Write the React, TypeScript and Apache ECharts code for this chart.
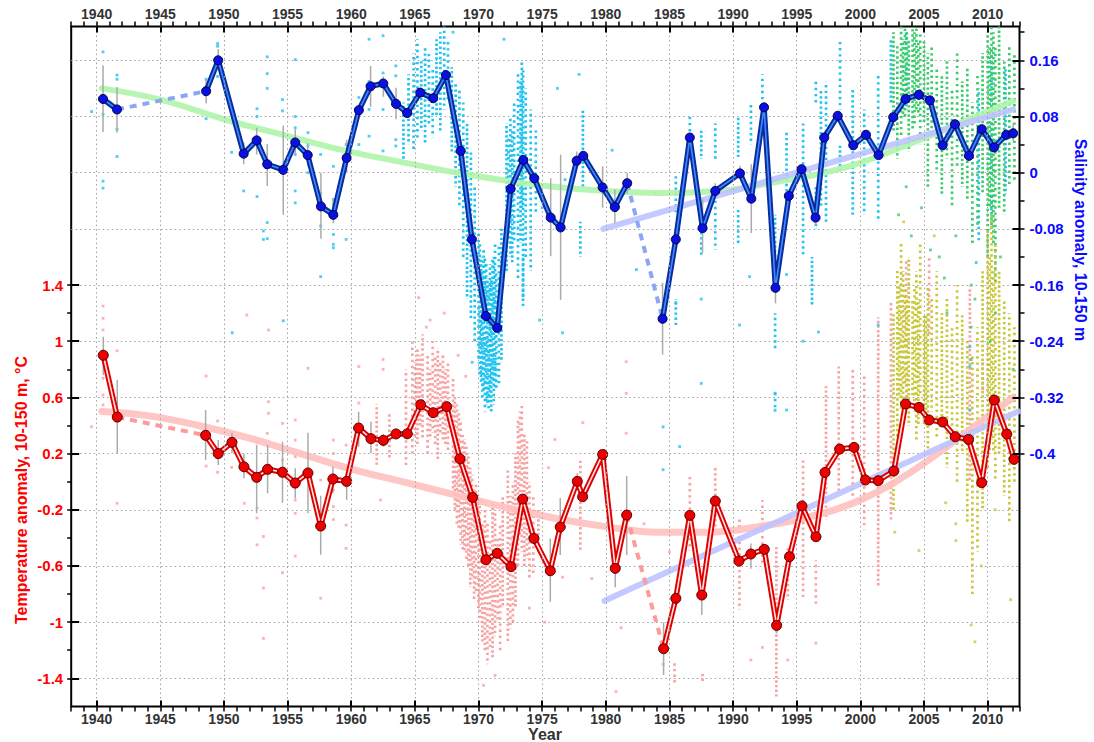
import React, { useEffect, useRef } from 'react';
import * as echarts from 'echarts';

// ---------------- DATA ----------------
const YEAR_RANGE = [1938, 2012.5];
const TEMP_RANGE = [-1.6, 3.24];
const SAL_RANGE = [-0.76, 0.208];

const SAL_YEARS = [1940.5, 1941.6, 1948.6, 1949.55, 1951.55, 1952.57, 1953.4, 1954.66, 1955.6, 1956.58, 1957.62, 1958.59, 1959.64, 1960.6, 1961.52, 1962.52, 1963.52, 1964.4, 1965.42, 1966.44, 1967.44, 1968.6, 1969.48, 1970.58, 1971.47, 1972.52, 1973.52, 1974.38, 1975.67, 1976.45, 1977.71, 1978.23, 1979.75, 1980.71, 1981.68, 1984.46, 1985.5, 1986.6, 1987.6, 1988.6, 1990.54, 1991.43, 1992.43, 1993.33, 1994.38, 1995.38, 1996.48, 1997.16, 1998.22, 1999.44, 2000.44, 2001.43, 2002.58, 2003.55, 2004.6, 2005.46, 2006.46, 2007.43, 2008.53, 2009.53, 2010.5, 2011.46, 2012.0];
const SAL_VALUES = [0.105, 0.090, 0.116, 0.160, 0.027, 0.046, 0.012, 0.004, 0.043, 0.025, -0.048, -0.060, 0.021, 0.089, 0.123, 0.127, 0.098, 0.085, 0.114, 0.106, 0.139, 0.031, -0.095, -0.204, -0.221, -0.023, 0.018, -0.008, -0.064, -0.078, 0.017, 0.024, -0.021, -0.049, -0.015, -0.208, -0.095, 0.050, -0.079, -0.026, -0.001, -0.037, 0.093, -0.164, -0.033, 0.005, -0.064, 0.050, 0.081, 0.039, 0.054, 0.025, 0.079, 0.105, 0.111, 0.103, 0.039, 0.069, 0.024, 0.062, 0.036, 0.054, 0.056];

const TEMP_YEARS = [1940.52, 1941.62, 1948.56, 1949.55, 1950.63, 1951.57, 1952.57, 1953.43, 1954.6, 1955.6, 1956.6, 1957.6, 1958.56, 1959.64, 1960.58, 1961.55, 1962.52, 1963.52, 1964.4, 1965.45, 1966.44, 1967.5, 1968.54, 1969.54, 1970.58, 1971.47, 1972.55, 1973.47, 1974.35, 1975.64, 1976.42, 1977.76, 1978.18, 1979.75, 1980.74, 1981.64, 1984.54, 1985.5, 1986.6, 1987.54, 1988.6, 1990.46, 1991.4, 1992.45, 1993.42, 1994.43, 1995.41, 1996.51, 1997.22, 1998.37, 1999.5, 2000.39, 2001.4, 2002.63, 2003.55, 2004.6, 2005.4, 2006.46, 2007.45, 2008.5, 2009.53, 2010.52, 2011.5, 2012.07];
const TEMP_VALUES = [0.90, 0.46, 0.33, 0.20, 0.28, 0.106, 0.031, 0.088, 0.067, -0.01, 0.062, -0.316, 0.019, 0.002, 0.382, 0.306, 0.294, 0.340, 0.341, 0.548, 0.491, 0.534, 0.163, -0.112, -0.556, -0.51, -0.605, -0.124, -0.404, -0.634, -0.323, 0.002, -0.107, 0.194, -0.617, -0.238, -1.189, -0.831, -0.24, -0.807, -0.138, -0.565, -0.515, -0.482, -1.023, -0.534, -0.173, -0.392, 0.066, 0.232, 0.244, 0.012, 0.007, 0.076, 0.553, 0.529, 0.439, 0.425, 0.32, 0.301, -0.007, 0.581, 0.339, 0.159];

// error bars: [year, low, high]
const SAL_ERR = [[1940.5, 0.058, 0.153], [1941.6, 0.057, 0.122], [1948.6, 0.099, 0.133], [1949.55, 0.154, 0.176], [1951.55, 0.012, 0.043], [1952.57, 0.026, 0.064], [1953.4, -0.019, 0.041], [1954.66, -0.060, 0.067], [1955.6, 0.024, 0.062], [1956.58, 0.009, 0.042], [1957.62, -0.094, 0.0], [1958.59, -0.072, -0.038], [1959.64, 0.0, 0.047], [1960.6, 0.080, 0.095], [1961.52, 0.094, 0.152], [1962.52, 0.108, 0.137], [1963.52, 0.076, 0.121], [1975.67, -0.119, -0.008], [1976.45, -0.181, 0.026], [1977.71, 0.005, 0.030], [1979.75, -0.050, 0.009], [1980.71, -0.072, -0.024], [1981.68, -0.030, 0.0], [1984.46, -0.259, -0.157], [1987.6, -0.114, -0.038], [1988.6, -0.035, -0.015], [1990.54, -0.008, 0.010], [1991.43, -0.086, 0.012], [1993.33, -0.186, -0.150], [1996.48, -0.075, -0.050], [2012.0, 0.045, 0.070]];
const TEMP_ERR = [[1940.52, 0.759, 1.032], [1941.62, 0.202, 0.724], [1948.56, 0.154, 0.51], [1949.55, 0.119, 0.296], [1950.63, 0.202, 0.348], [1951.57, 0.024, 0.197], [1952.57, -0.225, 0.261], [1953.43, -0.083, 0.261], [1954.6, -0.15, 0.284], [1955.6, -0.119, 0.095], [1956.6, -0.225, 0.348], [1957.6, -0.52, -0.10], [1958.56, -0.083, 0.107], [1959.64, -0.13, 0.06], [1960.58, 0.249, 0.498], [1961.55, 0.202, 0.427], [1962.52, 0.25, 0.34], [1975.64, -0.855, -0.404], [1976.42, -0.522, -0.117], [1977.76, -0.05, 0.06], [1980.74, -0.752, -0.487], [1981.64, -0.522, 0.04], [1984.54, -1.377, -1.0], [1987.54, -0.95, -0.70], [1991.4, -0.62, -0.44], [1993.42, -1.08, -0.97]];

// long-term trend curves: [year, value]
const SAL_TREND = [[1940.4, 0.120], [1945, 0.104], [1950.2, 0.075], [1955.5, 0.050], [1959.6, 0.031], [1964, 0.015], [1968.3, 0.0], [1974.8, -0.018], [1980, -0.026], [1985, -0.029], [1990, -0.024], [1993.1, -0.014], [1996.7, -0.002], [2000, 0.014], [2004.7, 0.047], [2008, 0.072], [2012, 0.102]];
const TEMP_TREND = [[1940.4, 0.50], [1944, 0.47], [1948, 0.40], [1952, 0.31], [1956, 0.20], [1960, 0.09], [1964, 0.0], [1968, -0.09], [1972, -0.18], [1976, -0.26], [1980, -0.32], [1984, -0.36], [1988, -0.36], [1992, -0.32], [1996, -0.25], [2000, -0.13], [2004, 0.07], [2008, 0.33], [2012, 0.60]];
// linear trends since 1980
const SAL_LINEAR = [[1979.8, -0.080], [2012, 0.090]];
const TEMP_LINEAR = [[1979.9, -0.848], [2012.4, 0.50]];

// individual observations, drawn as columns of dots [year, low, high] plus single dots [year, value]
const CYAN_STRIPS = [[1964.1, 0.02, 0.10], [1964.5, 0.04, 0.14], [1964.9, 0.03, 0.17], [1965.2, 0.05, 0.19], [1965.5, 0.06, 0.16], [1965.8, 0.04, 0.18], [1966.1, 0.07, 0.17], [1966.4, 0.05, 0.15], [1966.7, 0.08, 0.19], [1967.0, 0.06, 0.20], [1967.3, 0.09, 0.21], [1967.6, 0.10, 0.19], [1967.9, 0.03, 0.15], [1968.2, -0.02, 0.13], [1968.5, -0.05, 0.12], [1968.8, -0.12, 0.10], [1969.1, -0.18, 0.07], [1969.4, -0.21, 0.03], [1969.7, -0.24, -0.02], [1970.0, -0.27, -0.08], [1970.2, -0.30, -0.12], [1970.4, -0.31, -0.11], [1970.6, -0.33, -0.13], [1970.8, -0.34, -0.16], [1971.0, -0.34, -0.15], [1971.2, -0.33, -0.12], [1971.4, -0.31, -0.14], [1971.6, -0.30, -0.10], [1971.8, -0.27, -0.08], [1970.1, -0.29, -0.10], [1970.3, -0.32, -0.14], [1970.5, -0.34, -0.12], [1970.7, -0.33, -0.15], [1970.9, -0.32, -0.13], [1971.1, -0.30, -0.12], [1971.3, -0.31, -0.10], [1972.2, -0.14, 0.07], [1972.5, -0.12, 0.08], [1972.8, -0.10, 0.10], [1973.1, -0.15, 0.14], [1973.3, -0.10, 0.13], [1973.5, -0.18, 0.15], [1973.7, -0.12, 0.12], [1972.35, -0.10, 0.05], [1972.65, -0.13, 0.06], [1973.4, -0.05, 0.16], [1974.1, -0.14, 0.09], [1974.5, -0.06, 0.06], [1978.2, -0.02, 0.09], [1978.0, -0.12, -0.07], [1985.5, -0.06, 0.0], [1986.6, 0.05, 0.08], [1987.5, 0.02, 0.06], [1987.5, -0.12, -0.08], [1988.6, 0.02, 0.07], [1988.6, -0.11, -0.04], [1990.4, 0.02, 0.08], [1990.4, -0.10, -0.05], [1991.4, 0.04, 0.10], [1992.3, 0.10, 0.14], [1993.3, -0.12, -0.06], [1994.2, -0.06, 0.06], [1995.5, -0.12, 0.07], [1996.5, 0.10, 0.13], [1996.5, -0.08, -0.02], [1996.9, -0.05, 0.12], [1997.3, -0.07, 0.13], [1998.4, 0.09, 0.19], [1998.4, 0.0, 0.04], [1999.4, -0.06, 0.12], [2000.3, -0.06, 0.09], [2001.4, -0.07, 0.14], [2002.4, 0.10, 0.19], [2003.6, 0.09, 0.20], [2009.3, -0.10, 0.12], [2010.3, -0.08, 0.18], [2011.4, -0.03, 0.15], [1985.5, -0.22, -0.18], [1993.3, -0.25, -0.20], [1993.3, -0.34, -0.31], [1996.2, -0.19, -0.12], [1973.5, -0.19, -0.12]];
const CYAN_DOTS = [[1939.6, 0.087], [1940.5, 0.172], [1940.5, 0.083], [1940.5, -0.012], [1940.5, -0.022], [1941.6, 0.139], [1941.6, 0.133], [1941.6, 0.062], [1941.6, 0.023], [1948.6, 0.133], [1948.6, 0.077], [1949.5, 0.184], [1949.5, 0.18], [1949.5, 0.137], [1950.6, 0.029], [1951.55, -0.026], [1952.6, 0.091], [1952.6, 0.08], [1952.6, -0.034], [1953.1, -0.083], [1953.1, -0.095], [1953.4, 0.165], [1953.4, 0.141], [1953.4, 0.12], [1953.4, -0.071], [1953.4, -0.094], [1954.6, 0.104], [1954.6, 0.088], [1955.6, 0.161], [1955.6, 0.08], [1955.6, 0.064], [1955.6, 0.043], [1955.6, 0.026], [1955.6, -0.026], [1955.6, -0.043], [1956.6, 0.057], [1956.6, 0.038], [1956.6, 0.0], [1957.6, 0.026], [1957.6, -0.029], [1957.6, -0.043], [1957.6, -0.076], [1958.6, 0.009], [1958.6, -0.038], [1958.6, -0.045], [1958.6, -0.088], [1958.6, -0.102], [1958.6, -0.107], [1959.6, 0.04], [1959.6, -0.095], [1960.6, 0.107], [1960.6, 0.04], [1961.4, 0.19], [1961.4, 0.13], [1961.4, 0.09], [1961.4, 0.052], [1962.5, 0.195], [1962.5, 0.142], [1962.5, 0.09], [1962.5, 0.031], [1963.5, 0.152], [1963.5, 0.138], [1963.5, 0.104], [1963.5, 0.047], [1963.5, 0.038], [1950.65, -0.228], [1954.66, -0.211], [1957.6, -0.148], [1976.6, -0.228], [1982.4, -0.138], [1984.5, -0.362], [1984.5, -0.423], [1985.5, -0.185], [1987.5, -0.18], [1987.5, -0.3], [1985.8, -0.39], [1990.5, -0.217], [1991.3, -0.148], [1993.3, -0.314], [1993.3, -0.338], [1994.2, -0.145], [1994.2, -0.338], [1996.7, -0.227], [1995.5, -0.24], [2001.4, -0.217], [2008.6, -0.248], [2008.6, -0.276], [2008.6, -0.338], [2009.1, -0.128], [1980.5, 0.032], [1976.2, 0.12], [1977.9, 0.14], [1975.0, -0.05], [1976.8, -0.01], [1983.9, -0.03], [1972.0, 0.19], [1968.0, 0.20], [1974.8, -0.21], [1969.5, -0.27]];
const GREEN_STRIPS = [[2002.6, 0.06, 0.20], [2002.9, 0.02, 0.18], [2003.2, 0.05, 0.21], [2003.5, 0.08, 0.21], [2003.8, 0.03, 0.19], [2004.1, 0.06, 0.21], [2004.4, 0.09, 0.21], [2004.7, 0.04, 0.20], [2005.0, 0.07, 0.19], [2005.3, -0.02, 0.17], [2005.6, 0.05, 0.18], [2006.0, 0.00, 0.15], [2006.4, -0.03, 0.14], [2006.8, 0.02, 0.16], [2007.2, -0.05, 0.12], [2007.6, 0.01, 0.17], [2008.0, -0.02, 0.13], [2008.4, -0.04, 0.15], [2008.8, -0.10, 0.10], [2009.2, -0.08, 0.14], [2009.6, -0.03, 0.17], [2010.0, -0.12, 0.20], [2010.3, -0.08, 0.21], [2010.6, -0.16, 0.18], [2010.9, -0.05, 0.21], [2011.3, -0.06, 0.16], [2011.7, -0.02, 0.18], [2012.1, -0.01, 0.17], [2003.35, 0.08, 0.19], [2003.65, 0.10, 0.20], [2004.25, 0.07, 0.20], [2004.55, 0.08, 0.19], [2010.15, -0.05, 0.18], [2010.45, -0.10, 0.20]];
const GREEN_DOTS = [[2003.0, -0.06], [2004.0, -0.09], [2005.5, -0.11], [2006.6, -0.15], [2006.8, -0.2], [2007.5, -0.09], [2008.7, -0.16], [2008.7, -0.22], [2008.7, -0.266], [2009.0, -0.18], [2010.2, -0.24], [2011.0, -0.12], [2012.0, -0.28], [2006.2, -0.12], [2004.8, -0.05], [2003.6, -0.02], [2010.6, -0.20]];
const PINK_STRIPS = [[1962.0, 0.12, 0.55], [1963.0, 0.15, 0.5], [1964.3, 0.1, 0.8], [1964.8, 0.2, 1.0], [1965.2, 0.25, 0.95], [1965.6, 0.3, 1.05], [1966.0, 0.2, 0.9], [1966.4, 0.35, 1.0], [1966.8, 0.15, 0.95], [1967.2, 0.3, 0.9], [1967.6, 0.2, 0.85], [1965.0, 0.3, 0.85], [1965.4, 0.4, 0.9], [1966.2, 0.3, 0.8], [1966.6, 0.25, 0.9], [1967.0, 0.35, 0.85], [1967.4, 0.25, 0.8], [1968.0, -0.1, 0.75], [1968.3, -0.3, 0.55], [1968.6, -0.45, 0.45], [1968.9, -0.5, 0.3], [1969.2, -0.6, 0.2], [1969.5, -0.7, 0.05], [1969.8, -0.8, 0.0], [1968.15, -0.2, 0.6], [1968.45, -0.35, 0.5], [1968.75, -0.5, 0.35], [1969.05, -0.55, 0.25], [1969.35, -0.75, 0.1], [1969.65, -0.85, -0.05], [1970.0, -0.9, -0.2], [1970.1, -1.0, -0.1], [1970.3, -1.15, -0.3], [1970.5, -1.2, -0.2], [1970.7, -1.3, -0.3], [1970.9, -1.2, -0.4], [1971.1, -1.25, -0.15], [1971.3, -1.1, -0.2], [1971.5, -1.0, -0.4], [1971.7, -1.2, -0.3], [1971.9, -0.9, -0.1], [1972.3, -1.15, 0.1], [1972.7, -1.0, 0.0], [1972.5, -1.05, -0.1], [1972.9, -0.9, 0.2], [1973.1, -0.6, 0.45], [1973.4, -0.5, 0.55], [1973.25, -0.4, 0.5], [1973.6, -0.6, 0.35], [1973.8, -0.55, 0.3], [1974.0, -0.7, 0.0], [1974.3, -0.65, -0.1], [1974.7, -0.5, -0.2], [1978.0, -0.5, 0.15], [1985.4, -1.43, -1.27], [1986.6, -0.49, 0.06], [1987.6, -1.43, -1.36], [1988.6, -0.32, 0.1], [1990.5, -0.91, -0.27], [1992.3, -0.6, -0.13], [1993.4, -1.53, -0.46], [1994.3, -0.84, -0.46], [1995.5, -0.84, 0.15], [1996.5, -0.87, -0.56], [1997.3, -0.27, 0.68], [1998.3, -0.08, 0.82], [1999.4, -0.1, 0.8], [2000.3, -0.34, 0.75], [2001.4, -0.75, 1.17], [2002.4, -0.27, 1.29], [2003.6, 0.53, 1.57], [2005.4, 1.03, 1.6], [2008.6, 0.01, 1.39], [2009.6, 0.63, 0.87]];
const PINK_DOTS = [[1939.6, 0.391], [1940.5, 1.25], [1940.5, 1.163], [1940.5, 1.08], [1940.5, 0.736], [1940.5, 0.617], [1940.5, 0.546], [1941.6, 0.932], [1941.6, -0.154], [1948.6, 0.752], [1948.6, 0.111], [1949.5, 0.432], [1949.5, 0.067], [1950.6, 0.102], [1951.6, -0.154], [1951.8, 1.187], [1952.6, 0.277], [1952.6, -0.188], [1952.6, -0.259], [1952.6, -0.45], [1953.1, -0.39], [1953.1, -0.757], [1953.1, -1.116], [1953.4, 0.344], [1953.5, 1.08], [1953.5, 0.569], [1953.5, 0.487], [1954.6, 0.415], [1954.6, 0.154], [1954.6, -0.648], [1955.6, 0.439], [1955.6, 0.296], [1955.6, 0.178], [1955.6, -0.131], [1955.6, -0.225], [1955.6, -0.53], [1956.6, 0.807], [1957.6, -0.83], [1957.6, 0.012], [1958.6, 0.296], [1958.6, 0.2], [1958.6, -0.06], [1958.6, -0.178], [1958.6, -0.27], [1959.6, -0.309], [1959.6, -0.475], [1959.6, 0.26], [1960.6, 0.82], [1960.6, 0.56], [1962.5, 0.87], [1962.5, 0.8], [1962.3, -0.13], [1965.3, 1.31], [1966.2, 1.15], [1967.3, 1.2], [1965.9, 1.1], [1968.4, 0.9], [1969.0, 0.75], [1970.4, -1.45], [1971.3, -1.38], [1976.6, -0.68], [1978.9, -0.69], [1978.2, 0.42], [1980.8, -1.495], [1981.2, -1.04], [1981.6, 0.854], [1981.6, 0.629], [1981.6, 0.345], [1984.5, -1.3], [1991.4, -1.27], [1992.3, -1.18], [1994.3, -1.27], [1996.5, -1.15], [1975.2, -1.0], [1976.0, 0.3], [1983.0, -0.3], [1985.0, -0.5], [1974.0, -0.9], [1975.5, 0.1]];
const OLIVE_STRIPS = [[2002.6, -0.2, 1.2], [2002.9, 0.3, 1.5], [2003.2, 0.5, 1.7], [2003.5, 0.7, 1.4], [2003.8, 0.4, 1.6], [2004.1, 0.6, 1.3], [2004.4, 0.3, 1.5], [2004.7, 0.6, 1.7], [2005.0, 0.4, 1.2], [2005.3, 0.2, 1.4], [2005.6, 0.5, 1.3], [2006.0, 0.3, 1.5], [2006.4, 0.4, 1.2], [2006.8, 0.1, 1.3], [2007.2, 0.3, 1.1], [2007.6, 0.0, 1.4], [2008.0, 0.2, 1.2], [2008.4, -0.3, 1.0], [2008.8, -0.8, 0.9], [2009.2, -0.5, 1.1], [2009.6, -0.2, 1.5], [2010.0, 0.1, 1.8], [2010.3, 0.3, 1.9], [2010.6, 0.0, 1.7], [2010.9, 0.2, 1.5], [2011.3, -0.1, 1.3], [2011.7, -0.3, 1.2], [2012.1, 0.0, 1.1], [2003.05, 0.6, 1.4], [2003.35, 0.5, 1.5], [2003.65, 0.6, 1.3], [2004.25, 0.5, 1.4], [2004.55, 0.4, 1.3], [2005.15, 0.4, 1.2], [2010.15, 0.2, 1.6], [2010.45, 0.2, 1.5]];
const OLIVE_DOTS = [[2002.7, -0.36], [2004.6, -0.49], [2007.5, -0.3], [2007.5, -0.42], [2008.7, -1.02], [2009.0, -1.14], [2011.8, -0.84], [2010.6, -0.2], [2006.7, -0.15], [2009.5, -0.6], [2005.8, 1.75], [2003.4, 1.85]];

// ---------------- LAYOUT ----------------
const PLOT = { left: 71.2, top: 26.6, width: 948.3, height: 679.8 };
const xPix = (yr: number) => PLOT.left + ((yr - YEAR_RANGE[0]) / (YEAR_RANGE[1] - YEAR_RANGE[0])) * PLOT.width;
const tPix = (t: number) => PLOT.top + ((TEMP_RANGE[1] - t) / (TEMP_RANGE[1] - TEMP_RANGE[0])) * PLOT.height;
const sPix = (s: number) => PLOT.top + ((SAL_RANGE[1] - s) / (SAL_RANGE[1] - SAL_RANGE[0])) * PLOT.height;

const FONT = '"Liberation Sans", Arial, sans-serif';
const GRID_LINE = { color: '#a0a0a0', width: 1, type: [1.5, 3] as any };

function segments(xs: number[], ys: number[], maxGap: number) {
  const segs: number[][][] = [];
  let cur: number[][] = [];
  for (let i = 0; i < xs.length; i++) {
    if (i > 0 && xs[i] - xs[i - 1] > maxGap) { segs.push(cur); cur = []; }
    cur.push([xs[i], ys[i]]);
  }
  segs.push(cur);
  return segs;
}

function gapLinks(segs: number[][][]) {
  const links: number[][][] = [];
  for (let i = 1; i < segs.length; i++) {
    links.push([segs[i - 1][segs[i - 1].length - 1], segs[i][0]]);
  }
  return links;
}

function stripSeries(data: number[][], yIdx: number, color: string) {
  return {
    type: 'custom', xAxisIndex: 0, yAxisIndex: yIdx, clip: true, silent: true, z: 1,
    data, encode: { x: 0, y: [1, 2] },
    renderItem: (params: any, api: any) => {
      const p1 = api.coord([api.value(0), api.value(1)]);
      const p2 = api.coord([api.value(0), api.value(2)]);
      const i = params.dataIndex;
      return {
        type: 'line',
        shape: { x1: p1[0], y1: p1[1], x2: p2[0], y2: p2[1] },
        style: { stroke: color, lineWidth: 2.7, lineDash: [2.4, 2.2 + (i % 4) * 0.5], lineDashOffset: (i % 3) * 1.6 },
      };
    },
  };
}

function dotSeries(data: number[][], yIdx: number, color: string) {
  return {
    type: 'scatter', xAxisIndex: 0, yAxisIndex: yIdx, silent: true, z: 1,
    symbol: 'rect', symbolSize: 2.8, itemStyle: { color }, data,
  };
}

function errSeries(data: number[][], yIdx: number) {
  return {
    type: 'custom', xAxisIndex: 0, yAxisIndex: yIdx, clip: true, silent: true, z: 3,
    data, encode: { x: 0, y: [1, 2] },
    renderItem: (_p: any, api: any) => {
      const p1 = api.coord([api.value(0), api.value(1)]);
      const p2 = api.coord([api.value(0), api.value(2)]);
      return { type: 'line', shape: { x1: p1[0], y1: p1[1], x2: p2[0], y2: p2[1] }, style: { stroke: '#ababab', lineWidth: 1.5 } };
    },
  };
}

function trendSeries(data: number[][], yIdx: number, color: string, width: number, smooth: boolean) {
  return {
    type: 'line', xAxisIndex: 0, yAxisIndex: yIdx, silent: true, z: 2, smooth: smooth ? 0.4 : false,
    symbol: 'none', data, lineStyle: { color, width, cap: 'round' },
  };
}

function meanSeries(xs: number[], ys: number[], yIdx: number, outer: string, inner: string, marker: string, markerBorder: string, size: number) {
  const segs = segments(xs, ys, 2.5);
  const out: any[] = [];
  gapLinks(segs).forEach((d) => {
    out.push({
      type: 'line', xAxisIndex: 0, yAxisIndex: yIdx, silent: true, z: 4, symbol: 'none', data: d,
      lineStyle: { color: yIdx === 1 ? '#8aa6f5' : '#ff9a9a', width: 4, type: [7, 6] },
    });
  });
  segs.forEach((d) => {
    out.push({ type: 'line', xAxisIndex: 0, yAxisIndex: yIdx, silent: true, z: 5, symbol: 'none', data: d, lineStyle: { color: outer, width: 5.5, join: 'round' } });
    out.push({
      type: 'line', xAxisIndex: 0, yAxisIndex: yIdx, silent: true, z: 6, data: d,
      symbol: 'circle', symbolSize: size, showSymbol: true,
      itemStyle: { color: marker, borderColor: markerBorder, borderWidth: 1 },
      lineStyle: { color: inner, width: 1.6, join: 'round' },
    });
  });
  return out;
}

const hiddenX = (gridIndex: number) => ({ type: 'value', gridIndex, show: false, min: 0, max: 1, axisLine: { show: false, onZero: false } });
const hiddenY = (gridIndex: number) => ({ type: 'value', gridIndex, show: false, min: 0, max: 1, axisLine: { show: false, onZero: false } });

const yearLabel = (v: number) => (Math.abs(v % 5) < 1e-6 ? String(Math.round(v)) : '');
const salLabel = (v: number) => {
  const k = Math.round((v + 0.4) / 0.04);
  if (k % 2 !== 0 || v > 0.17) return '';
  const r = Math.round(v * 100) / 100;
  return r === 0 ? '0' : String(r);
};
const tempLabel = (v: number) => {
  const k = Math.round((v + 1.4) / 0.2);
  if (k % 2 !== 0) return '';
  const r = Math.round(v * 10) / 10;
  return r === 0 ? '0' : String(r);
};

export default function App() {
  const ref = useRef<HTMLDivElement>(null);
  useEffect(() => {
    if (!ref.current) return;
    const chart = echarts.init(ref.current, undefined, { renderer: 'svg' });

    const grids = [
      { left: PLOT.left, top: PLOT.top, width: PLOT.width, height: PLOT.height, show: true, borderColor: '#000', borderWidth: 2, backgroundColor: 'transparent', outerBoundsMode: 'none' },
      { left: xPix(1940), top: PLOT.top, width: xPix(2010) - xPix(1940), height: PLOT.height, outerBoundsMode: 'none' },
      { left: PLOT.left, top: sPix(0.16), width: PLOT.width, height: sPix(-0.72) - sPix(0.16), outerBoundsMode: 'none' },
      { left: PLOT.left, top: sPix(0.2), width: PLOT.width, height: sPix(-0.4) - sPix(0.2), outerBoundsMode: 'none' },
      { left: PLOT.left, top: sPix(0.16), width: PLOT.width, height: sPix(-0.4) - sPix(0.16), outerBoundsMode: 'none' },
      { left: PLOT.left, top: tPix(1.4), width: PLOT.width, height: tPix(-1.4) - tPix(1.4), outerBoundsMode: 'none' },
    ];

    const noLine = { show: false, onZero: false };
    const yearLabelStyle = { color: '#333333', fontSize: 14, fontWeight: 'bold', fontFamily: FONT, formatter: yearLabel };
    const xAxes: any[] = [
      { type: 'value', gridIndex: 0, position: 'bottom', min: YEAR_RANGE[0], max: YEAR_RANGE[1], interval: 1, z: 10,
        axisLine: noLine, splitLine: { show: false },
        axisTick: { show: true, inside: false, length: 5, lineStyle: { color: '#000', width: 1.5 } },
        axisLabel: { ...yearLabelStyle, margin: 6 } },
      { type: 'value', gridIndex: 0, position: 'top', min: YEAR_RANGE[0], max: YEAR_RANGE[1], interval: 1, z: 10,
        axisLine: noLine, splitLine: { show: false },
        axisTick: { show: true, inside: false, length: 5, lineStyle: { color: '#000', width: 1.5 } },
        axisLabel: { ...yearLabelStyle, margin: 6 } },
      { type: 'value', gridIndex: 1, position: 'bottom', min: 1940, max: 2010, interval: 5, z: 10,
        axisLine: noLine, axisLabel: { show: false },
        axisTick: { show: true, inside: true, length: 6, lineStyle: { color: '#000', width: 2 } },
        splitLine: { show: true, lineStyle: GRID_LINE } },
      { type: 'value', gridIndex: 1, position: 'top', min: 1940, max: 2010, interval: 5, z: 10,
        axisLine: noLine, axisLabel: { show: false }, splitLine: { show: false },
        axisTick: { show: true, inside: true, length: 6, lineStyle: { color: '#000', width: 2 } } },
      hiddenX(2), hiddenX(3), hiddenX(4), hiddenX(5),
    ];

    const yAxes: any[] = [
      { type: 'value', gridIndex: 0, min: TEMP_RANGE[0], max: TEMP_RANGE[1], show: false, axisLine: noLine },
      { type: 'value', gridIndex: 0, min: SAL_RANGE[0], max: SAL_RANGE[1], show: false, axisLine: noLine },
      hiddenY(1),
      { type: 'value', gridIndex: 2, min: -0.72, max: 0.16, interval: 0.08,
        axisLine: noLine, axisTick: { show: false }, axisLabel: { show: false },
        splitLine: { show: true, lineStyle: GRID_LINE } },
      { type: 'value', gridIndex: 3, position: 'right', min: -0.4, max: 0.2, interval: 0.04, z: 10,
        axisLine: noLine, splitLine: { show: false },
        axisTick: { show: true, inside: false, length: 5, lineStyle: { color: '#000', width: 1.5 } },
        axisLabel: { color: '#0a0aff', fontSize: 15, fontWeight: 'bold', fontFamily: FONT, margin: 10, formatter: salLabel } },
      { type: 'value', gridIndex: 4, position: 'right', min: -0.4, max: 0.16, interval: 0.08, z: 10,
        axisLine: noLine, splitLine: { show: false }, axisLabel: { show: false },
        axisTick: { show: true, inside: true, length: 7, lineStyle: { color: '#000', width: 2 } } },
      { type: 'value', gridIndex: 5, position: 'left', min: -1.4, max: 1.4, interval: 0.2, z: 10,
        axisLine: noLine, splitLine: { show: false },
        axisTick: { show: true, inside: false, length: 4, lineStyle: { color: '#000', width: 1.5 } },
        axisLabel: { color: '#ff0000', fontSize: 15, fontWeight: 'bold', fontFamily: FONT, margin: 8, formatter: tempLabel } },
      { type: 'value', gridIndex: 5, position: 'left', min: -1.4, max: 1.4, interval: 0.4, z: 10,
        axisLine: noLine, splitLine: { show: false }, axisLabel: { show: false },
        axisTick: { show: true, inside: true, length: 8, lineStyle: { color: '#000', width: 2 } } },
    ];

    const series: any[] = [
      stripSeries(CYAN_STRIPS, 1, '#1fc3ef'),
      dotSeries(CYAN_DOTS, 1, '#1fc3ef'),
      stripSeries(PINK_STRIPS, 0, '#f7a3a3'),
      dotSeries(PINK_DOTS, 0, '#f7a3a3'),
      stripSeries(GREEN_STRIPS, 1, '#3dcc6c'),
      dotSeries(GREEN_DOTS, 1, '#3dcc6c'),
      stripSeries(OLIVE_STRIPS, 0, '#c8c838'),
      dotSeries(OLIVE_DOTS, 0, '#c8c838'),
      trendSeries(SAL_TREND, 1, 'rgba(175,245,170,0.9)', 6, true),
      trendSeries(TEMP_TREND, 0, 'rgba(255,192,192,0.9)', 7, true),
      trendSeries(SAL_LINEAR, 1, 'rgba(190,195,255,0.9)', 6, false),
      trendSeries(TEMP_LINEAR, 0, 'rgba(190,195,255,0.9)', 6, false),
      errSeries(SAL_ERR, 1),
      errSeries(TEMP_ERR, 0),
      ...meanSeries(SAL_YEARS, SAL_VALUES, 1, '#0b2a9e', '#3a8cff', '#0a10e0', '#000050', 9),
      ...meanSeries(TEMP_YEARS, TEMP_VALUES, 0, '#e00000', '#ffe6e6', '#ee0000', '#500000', 10),
    ];

    chart.setOption({
      animation: false,
      backgroundColor: '#ffffff',
      grid: grids,
      xAxis: xAxes,
      yAxis: yAxes,
      series,
      graphic: [
        { type: 'text', x: 21, y: 490, rotation: Math.PI / 2, silent: true,
          style: { text: 'Temperature anomaly, 10-150 m, °C', fill: '#ff0000', font: `bold 16px ${FONT}`, align: 'center', verticalAlign: 'middle' } },
        { type: 'text', x: 1080, y: 240, rotation: -Math.PI / 2, silent: true,
          style: { text: 'Salinity anomaly, 10-150 m', fill: '#0a0aff', font: `bold 16px ${FONT}`, align: 'center', verticalAlign: 'middle' } },
        { type: 'text', x: 545, y: 734, silent: true,
          style: { text: 'Year', fill: '#333333', font: `bold 16px ${FONT}`, align: 'center', verticalAlign: 'middle' } },
      ],
    });
    return () => chart.dispose();
  }, []);
  return <div ref={ref} style={{ position: 'fixed', left: 0, top: 0, width: 1094, height: 742 }} />;
}
